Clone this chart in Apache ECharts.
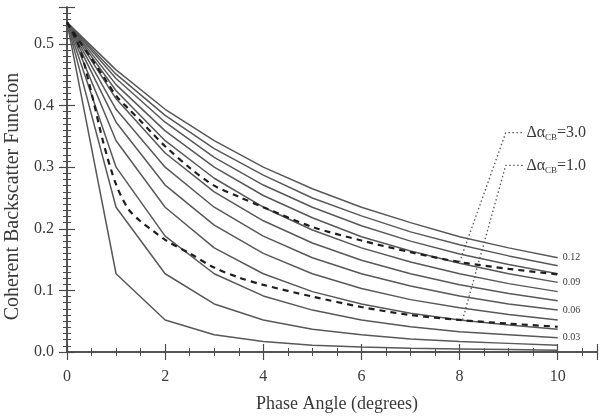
<!DOCTYPE html>
<html>
<head>
<meta charset="utf-8">
<script src="https://cdn.jsdelivr.net/npm/echarts@6/dist/echarts.min.js"></script>
<style>
  html, body { margin: 0; padding: 0; background: #fff; }
  #chart { width: 604px; height: 418px; }
</style>
</head>
<body>
<div id="chart"></div>
<script>
// phase angle samples (degrees) for the solid curves
var phase = [0, 1, 2, 3, 4, 5, 6, 7, 8, 9, 10];

// solid curves, one per parameter value (0.01 ... 0.12)
var c01 = [0.535, 0.127, 0.052, 0.028, 0.017, 0.011, 0.008, 0.006, 0.005, 0.004, 0.003];
var c02 = [0.535, 0.235, 0.127, 0.078, 0.052, 0.037, 0.028, 0.021, 0.017, 0.014, 0.011];
var c03 = [0.535, 0.300, 0.188, 0.127, 0.091, 0.068, 0.052, 0.041, 0.033, 0.028, 0.023];
var c04 = [0.535, 0.343, 0.235, 0.169, 0.127, 0.098, 0.078, 0.063, 0.052, 0.044, 0.037];
var c05 = [0.535, 0.373, 0.271, 0.206, 0.160, 0.127, 0.103, 0.085, 0.072, 0.061, 0.052];
var c06 = [0.535, 0.394, 0.300, 0.235, 0.188, 0.153, 0.127, 0.107, 0.091, 0.078, 0.068];
var c07 = [0.535, 0.411, 0.323, 0.260, 0.213, 0.177, 0.149, 0.127, 0.109, 0.095, 0.083];
var c08 = [0.535, 0.424, 0.343, 0.282, 0.235, 0.198, 0.169, 0.146, 0.127, 0.111, 0.098];
var c09 = [0.535, 0.434, 0.359, 0.300, 0.254, 0.218, 0.187, 0.164, 0.144, 0.127, 0.113];
var c10 = [0.535, 0.444, 0.373, 0.316, 0.271, 0.235, 0.205, 0.180, 0.159, 0.142, 0.127];
var c11 = [0.535, 0.451, 0.384, 0.330, 0.287, 0.250, 0.221, 0.195, 0.174, 0.156, 0.140];
var c12 = [0.535, 0.458, 0.394, 0.343, 0.300, 0.265, 0.235, 0.210, 0.187, 0.169, 0.153];
var solidCurves = [c01, c02, c03, c04, c05, c06, c07, c08, c09, c10, c11, c12];
// which curves get a label at their end
var curveLabels = ['', '', '0.03', '', '', '0.06', '', '', '0.09', '', '', '0.12'];

// dashed curves (delta alpha_CB = 3.0 and 1.0)
var dashX = [0, 0.25, 0.5, 0.75, 1, 1.25, 1.5, 1.75, 2, 2.5, 3, 3.5, 4, 5, 6, 7, 8, 9, 10];
var dash30 = [0.535, 0.505, 0.476, 0.446, 0.416, 0.395, 0.375, 0.354, 0.334, 0.299, 0.270, 0.252, 0.235, 0.203, 0.181, 0.162, 0.146, 0.135, 0.126];
var dash10 = [0.535, 0.495, 0.420, 0.337, 0.272, 0.232, 0.212, 0.197, 0.182, 0.160, 0.137, 0.121, 0.109, 0.090, 0.073, 0.060, 0.052, 0.046, 0.041];

// dotted leader lines for the annotations
var lead30X = [8.0, 8.94, 9.3];
var lead30Y = [0.146, 0.356, 0.356];
var lead10X = [8.06, 8.94, 9.3];
var lead10Y = [0.052, 0.303, 0.303];

var xTicks = [0, 2, 4, 6, 8, 10];
var yTicks = [0, 0.1, 0.2, 0.3, 0.4, 0.5];

var FONT = 'Liberation Serif';
var TXT = '#3a3a3a';
var AX = '#4a4a4a';

function pairs(xs, ys) {
  return xs.map(function (x, i) { return [x, ys[i]]; });
}

var series = [];
solidCurves.forEach(function (c, k) {
  series.push({
    type: 'line',
    data: pairs(phase, c),
    symbol: 'none',
    silent: true,
    lineStyle: { color: '#585858', width: 1.5 },
    endLabel: {
      show: curveLabels[k] !== '',
      formatter: curveLabels[k],
      fontFamily: FONT,
      fontSize: 10,
      color: TXT,
      distance: 5
    },
    z: 2
  });
});

[dash30, dash10].forEach(function (d) {
  series.push({
    type: 'line',
    data: pairs(dashX, d),
    symbol: 'none',
    smooth: 0.3,
    silent: true,
    lineStyle: { color: '#1e1e1e', width: 2.2, type: [6, 5] },
    z: 4
  });
});

var rich = {
  a: { fontFamily: FONT, fontSize: 16, color: TXT },
  s: { fontFamily: FONT, fontSize: 9, color: TXT, padding: [10, 0, 0, 0] }
};
[[lead30X, lead30Y, '3.0'], [lead10X, lead10Y, '1.0']].forEach(function (l) {
  series.push({
    type: 'line',
    data: pairs(l[0], l[1]),
    symbol: 'none',
    silent: true,
    lineStyle: { color: '#555', width: 1.3, type: [1.5, 2.5] },
    endLabel: {
      show: true,
      distance: 3,
      formatter: '{a|\u0394\u03b1}{s|CB}{a|=' + l[2] + '}',
      rich: rich
    },
    z: 3
  });
});

function axisBase(show) {
  return {
    type: 'value',
    axisLine: { show: true, lineStyle: { color: AX, width: 1.5 } },
    axisTick: { show: true, inside: true, length: 8, lineStyle: { color: AX, width: 1.2 } },
    minorTick: { show: true, length: 4, lineStyle: { color: AX, width: 1 } },
    splitLine: { show: false },
    axisLabel: { show: show, fontFamily: FONT, fontSize: 16, color: TXT, showMaxLabel: false }
  };
}

var xMain = Object.assign(axisBase(true), {
  min: 0, max: 10.8, interval: 2, position: 'bottom',
  name: 'Phase Angle (degrees)', nameLocation: 'middle', nameGap: 43,
  nameTextStyle: { fontFamily: FONT, fontSize: 18, color: TXT, padding: [0, 0, 0, 10] }
});
xMain.axisLabel.margin = 17;
xMain.axisLabel.formatter = function (v) { return xTicks.indexOf(v) >= 0 ? String(v) : ''; };
xMain.minorTick.splitNumber = 4;

var xTop = Object.assign(axisBase(false), { min: 0, max: 10.8, interval: 2, position: 'top' });
xTop.minorTick.splitNumber = 4;

var yMain = Object.assign(axisBase(true), {
  min: 0, max: 0.56, interval: 0.1, position: 'left',
  name: 'Coherent Backscatter Function', nameLocation: 'middle', nameGap: 39,
  nameTextStyle: { fontFamily: FONT, fontSize: 20, color: TXT, padding: [0, 34, 0, 0] }
});
yMain.axisLabel.margin = 13;
yMain.axisLabel.formatter = function (v) {
  for (var i = 0; i < yTicks.length; i++) {
    if (Math.abs(yTicks[i] - v) < 1e-6) return yTicks[i].toFixed(1);
  }
  return '';
};
yMain.minorTick.splitNumber = 10;

var yRight = Object.assign(axisBase(false), { min: 0, max: 0.56, interval: 0.1, position: 'right' });
yRight.minorTick.splitNumber = 10;

var chart = echarts.init(document.getElementById('chart'), null, { renderer: 'canvas' });
chart.setOption({
  animation: false,
  backgroundColor: '#fff',
  grid: { left: 67, right: 7, top: 7, bottom: 66, outerBoundsMode: 'none' },
  xAxis: [xMain, xTop],
  yAxis: [yMain, yRight],
  series: series
});
</script>
</body>
</html>
